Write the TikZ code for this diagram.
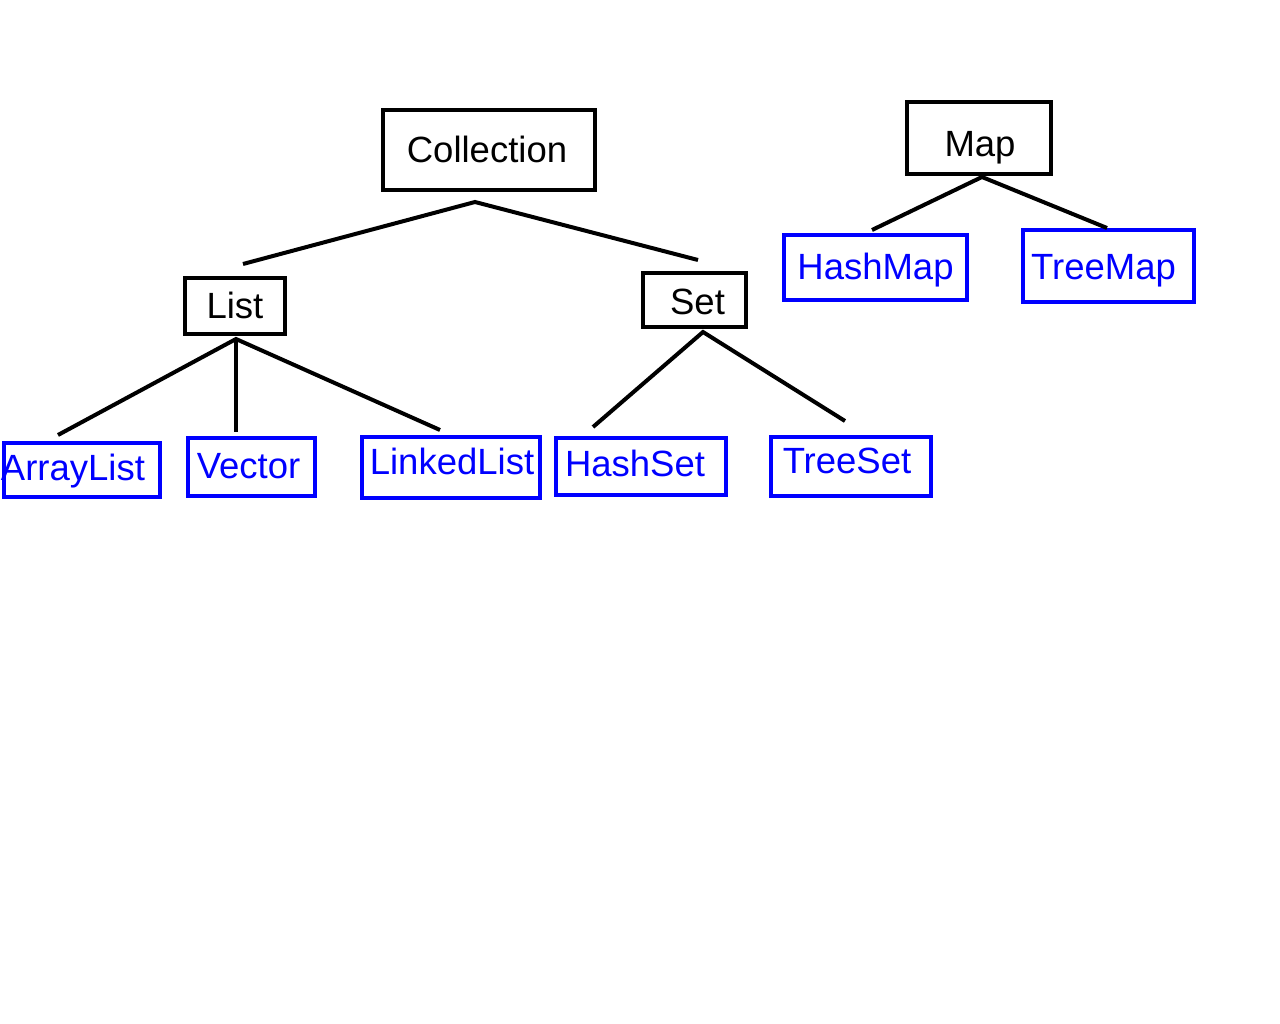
\documentclass[tikz,border=0pt]{standalone}
\usepackage{fontspec}
\setmainfont{Liberation Sans}
\definecolor{pureblue}{RGB}{0,0,255}
\newcommand{\lbl}[3]{\raisebox{\dimexpr #2-13pt\relax}[0pt][0pt]{\hspace*{#1}\makebox[0pt]{#3}\hspace*{-#1}}}
\tikzset{
  base/.style={draw, line width=3.3pt, inner sep=0pt, font=\fontsize{36.5}{40}\selectfont},
  parentbox/.style={base, draw=black, text=black},
  leafbox/.style={base, draw=pureblue, text=pureblue},
  conn/.style={draw=black, line width=4pt}
}
\begin{document}
\begin{tikzpicture}[x=1pt,y=-1pt]
\useasboundingbox (0,0) rectangle (1280,1024);
% parent boxes
\node[parentbox, minimum width=212, minimum height=80] (coll) at (489,150) {\lbl{-2pt}{0pt}{Collection}};
\node[parentbox, minimum width=144, minimum height=72] (map) at (979,138) {\lbl{1pt}{-6pt}{Map}};
\node[parentbox, minimum width=100, minimum height=56] (list) at (235,306) {\lbl{0pt}{0pt}{List}};
\node[parentbox, minimum width=103, minimum height=54] (set) at (694.5,300) {\lbl{3pt}{-2pt}{Set}};
% leaf boxes
\node[leafbox, minimum width=183, minimum height=65] (hashmap) at (875.5,267.5) {\lbl{0pt}{1pt}{HashMap}};
\node[leafbox, minimum width=171, minimum height=72] (treemap) at (1108.5,266) {\lbl{-5pt}{-1pt}{TreeMap}};
\node[leafbox, minimum width=156, minimum height=54] (arraylist) at (82,470) {\lbl{-9pt}{3pt}{ArrayList}};
\node[leafbox, minimum width=127, minimum height=58] (vector) at (251.5,467) {\lbl{-3pt}{2pt}{Vector}};
\node[leafbox, minimum width=178, minimum height=61] (linkedlist) at (451,467.5) {\lbl{1pt}{6pt}{LinkedList}};
\node[leafbox, minimum width=170, minimum height=57] (hashset) at (641,466.5) {\lbl{-6pt}{3pt}{HashSet}};
\node[leafbox, minimum width=160, minimum height=59] (treeset) at (851,466.5) {\lbl{-4pt}{6pt}{TreeSet}};
% connector points
\coordinate (collA) at (475,202);
\coordinate (listT) at (243,264);
\coordinate (setT) at (698,260);
\coordinate (mapA) at (982,177);
\coordinate (hashmapT) at (872,230);
\coordinate (treemapT) at (1107,228);
\coordinate (listA) at (236,339);
\coordinate (arraylistT) at (58,435);
\coordinate (vectorT) at (236,432);
\coordinate (linkedlistT) at (440,430);
\coordinate (setA) at (703,332);
\coordinate (hashsetT) at (593,427);
\coordinate (treesetT) at (845,421);
% connectors
\draw[conn] (listT) -- (collA) -- (setT);
\draw[conn] (hashmapT) -- (mapA) -- (treemapT);
\draw[conn] (arraylistT) -- (listA) -- (linkedlistT);
\draw[conn] (listA) -- (vectorT);
\draw[conn] (hashsetT) -- (setA) -- (treesetT);
\end{tikzpicture}
\end{document}
